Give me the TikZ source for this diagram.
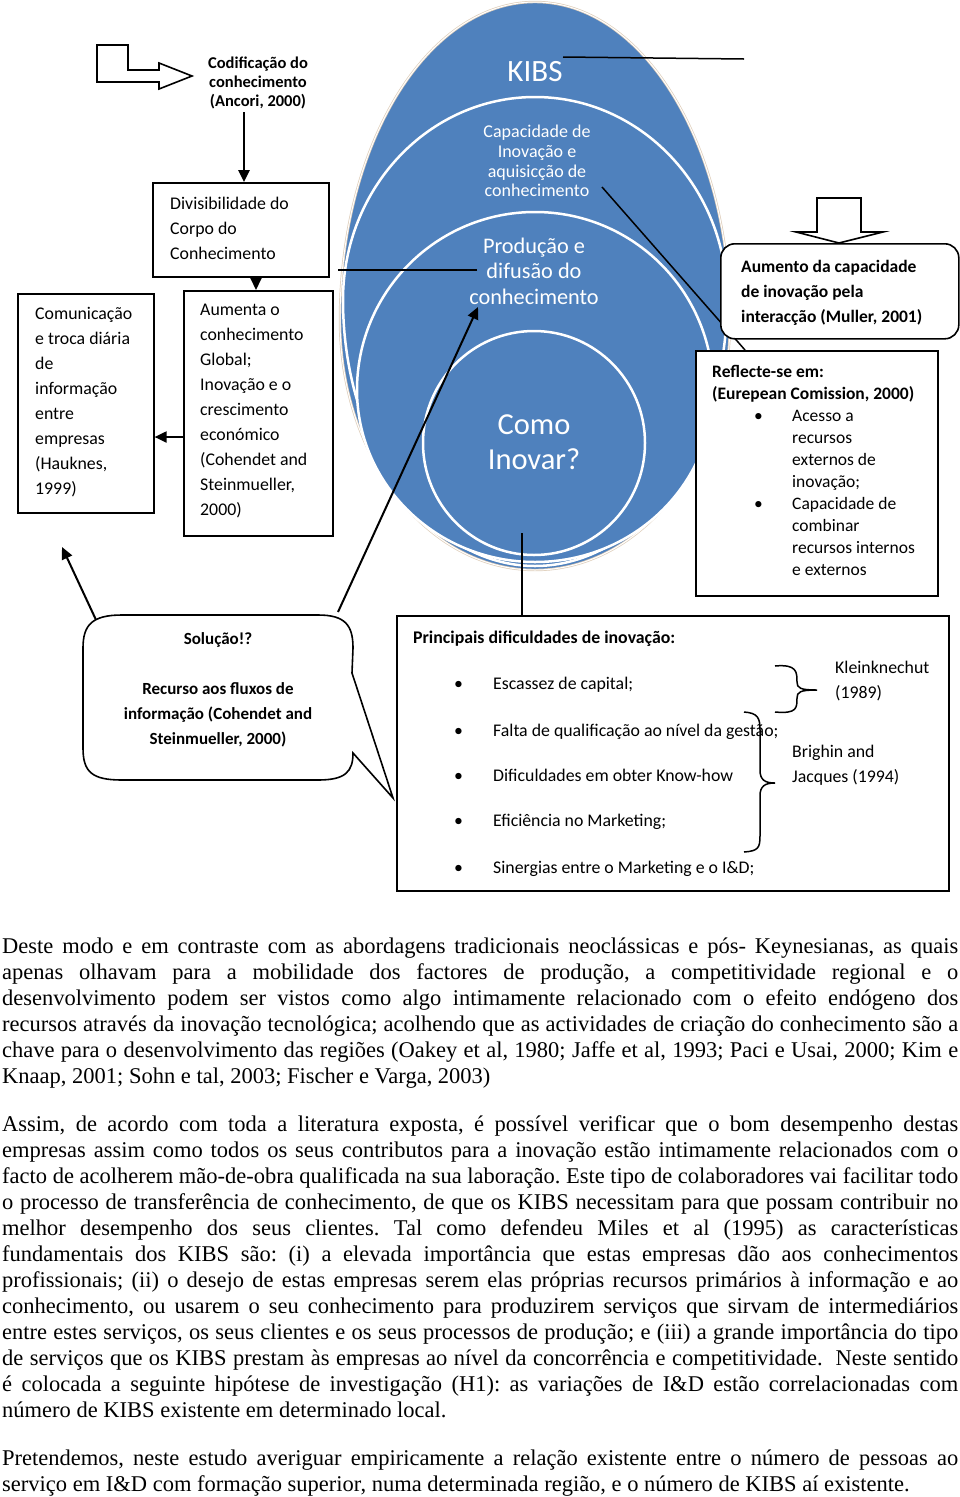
\documentclass[tikz,border=0pt]{standalone}
\usepackage{fontspec}
\setmainfont{Liberation Serif}
\newfontfamily\carl{Carlito}
\usetikzlibrary{arrows.meta}
\definecolor{kblue}{RGB}{79,129,189}
\definecolor{beigeedge}{RGB}{222,205,185}
\newcommand\justline[1]{\makebox[956pt][s]{#1}}
\frenchspacing
\begin{document}
\begin{tikzpicture}[x=1pt,y=-1pt,
 box/.style={draw=black,line width=1.6pt,fill=white,anchor=north west,inner sep=0pt},
 btxt/.style={font=\carl\fontsize{17.8}{25}\selectfont,align=left,inner sep=0pt,anchor=west},
 ln/.style={draw=black,line width=1.5pt},
 arr/.style={draw=black,line width=2pt,-{Triangle[length=12pt,width=11pt]}},
 blk/.style={draw=black,line width=1.6pt,fill=white,line join=miter},
 wtxt/.style={text=white,align=center,inner sep=0pt},
 para/.style={font=\fontsize{22.5}{25.6}\selectfont,anchor=base west,inner sep=0pt},
 lbl/.style={font=\carl\fontsize{17.8}{25}\selectfont,anchor=base west,inner sep=0pt},
]
\useasboundingbox (0,0) rectangle (960,1497);

% ---------- stacked ellipses ----------
\filldraw[fill=kblue,draw=beigeedge,line width=2.4pt] (730,320) arc[start angle=0,end angle=180,x radius=195pt,y radius=318pt] arc[start angle=180,end angle=360,x radius=195pt,y radius=250pt] -- cycle;
\draw[white,line width=1pt] (730,320) arc[start angle=0,end angle=180,x radius=195pt,y radius=318pt] arc[start angle=180,end angle=360,x radius=195pt,y radius=250pt] -- cycle;
\filldraw[fill=kblue,draw=white,line width=2.5pt] (727,300) arc[start angle=0,end angle=180,x radius=192pt,y radius=203pt] arc[start angle=180,end angle=360,x radius=192pt,y radius=266pt] -- cycle;
\filldraw[fill=kblue,draw=white,line width=2.5pt] (713,390) arc[start angle=0,end angle=180,x radius=178pt,y radius=178pt] arc[start angle=180,end angle=360,x radius=178pt,y radius=172pt] -- cycle;
\filldraw[fill=kblue,draw=white,line width=2.5pt] (534,443) ellipse[x radius=111pt,y radius=112pt];

\node[wtxt,font=\carl\fontsize{31}{35}\selectfont] (kibs) at (535,72) {KIBS};
\node[wtxt,font=\carl\fontsize{18}{19.7}\selectfont] (capac) at (537,161) {Capacidade de\\Inovação e\\aquisicção de\\conhecimento};
\node[wtxt,font=\carl\fontsize{22.3}{25.5}\selectfont] (prod) at (534,271) {Produção e\\difusão do\\conhecimento};
\node[wtxt,font=\carl\fontsize{30.5}{35}\selectfont] (como) at (534,442) {Como\\Inovar?};

% ---------- top-left block arrow ----------
\draw[blk] (97,45) -- (128,45) -- (128,70) -- (159,70) -- (159,63) -- (192,76) -- (159,89) -- (159,82) -- (97,82) -- cycle;
\node[font=\carl\bfseries\fontsize{16.5}{19}\selectfont,align=center,inner sep=0pt] (codif) at (258,83) {Codificação do\\conhecimento\\(Ancori, 2000)};

% ---------- left boxes ----------
\node[box,minimum width=176pt,minimum height=94pt] (divbox) at (152,182) {};
\node[btxt] (divtxt) at (170,228) {Divisibilidade do\\Corpo do\\Conhecimento};
\node[box,minimum width=149pt,minimum height=245pt] (aumbox) at (183,290) {};
\node[btxt] (aumtxt) at (200,411) {Aumenta o\\conhecimento\\Global;\\Inovação e o\\crescimento\\económico\\(Cohendet and\\Steinmueller,\\2000)};
\node[box,minimum width=136pt,minimum height=219pt] (combox) at (17,293) {};
\node[btxt] (comtxt) at (35,402) {Comunicação\\e troca diária\\de\\informação\\entre\\empresas\\(Hauknes,\\1999)};

\coordinate (codarr) at (244,112);
\draw[arr,line width=2.6pt] (codarr) -- (codarr |- divbox.north);
\coordinate (d2a) at (256,276);
\draw[arr] (d2a) -- (d2a |- aumbox.north);
\coordinate (a2c) at (183,437);
\draw[arr] (a2c) -- (a2c -| combox.east);

% ---------- right side ----------
\coordinate (capA) at (602,187);
\coordinate (capB) at (745,350);
\draw[ln] (capA) -- (capB);
\coordinate (kibsA) at (563,57);
\coordinate (kibsB) at (744,59);
\draw[ln] (kibsA) -- (kibsB);

\draw[blk] (817,198) -- (861,198) -- (861,232) -- (883,232) -- (839,243) -- (796,232) -- (817,232) -- cycle;
\node[box,rounded corners=14pt,minimum width=238pt,minimum height=95pt] (aumento) at (720,243) {};
\node[btxt,font=\carl\bfseries\fontsize{17.5}{25}\selectfont] (aumentotxt) at (741,293) {Aumento da capacidade\\de inovação pela\\interacção (Muller, 2001)};

\node[box,minimum width=242pt,minimum height=245pt] (refbox) at (695,350) {};
\node[btxt,font=\carl\fontsize{17.5}{22}\selectfont] (reftxt) at (712,470) {\textbf{Reflecte-se em:}\\\textbf{(Eurepean Comission, 2000)}\\\hspace*{42pt}\makebox[38pt][l]{\textbullet}Acesso a\\\hspace*{80pt}recursos\\\hspace*{80pt}externos de\\\hspace*{80pt}inovação;\\\hspace*{42pt}\makebox[38pt][l]{\textbullet}Capacidade de\\\hspace*{80pt}combinar\\\hspace*{80pt}recursos internos\\\hspace*{80pt}e externos};

% ---------- connectors over ellipses ----------
\coordinate (prodA) at (477,270);
\coordinate (prodB) at (338,270);
\draw[ln] (prodA) -- (prodB);
\coordinate (comoA) at (522,533);
\coordinate (solTR) at (338,612);
\coordinate (conhTip) at (478,307);
\draw[arr] (solTR) -- (conhTip);
\coordinate (solTL) at (97,622);
\coordinate (comTip) at (62,547);
\draw[arr] (solTL) -- (comTip);

% ---------- Solução callout ----------
\draw[line width=1.6pt,fill=white,line join=miter] (122,615) -- (318,615) .. controls (345,615) and (353,625) .. (353,648) -- (352,673) -- (393,798) -- (353,753) .. controls (353,772) and (345,780) .. (318,780) -- (122,780) .. controls (92,780) and (83,772) .. (83,748) -- (83,648) .. controls (83,625) and (92,615) .. (122,615) -- cycle;
\node[font=\carl\bfseries\fontsize{17}{25}\selectfont,align=center,inner sep=0pt] (sol) at (218,690) {Solução!?\\[25pt]Recurso aos fluxos de\\informação (Cohendet and\\Steinmueller, 2000)};

% ---------- Principais box ----------
\node[box,minimum width=552pt,minimum height=275pt] (pdbox) at (396,615) {};
\draw[ln] (comoA) -- (comoA |- pdbox.north);
\node[lbl,font=\carl\bfseries\fontsize{17.8}{25}\selectfont] (pdtitle) at (413,643) {Principais dificuldades de inovação:};
\node[lbl] (b1) at (454,689) {\textbullet};
\node[lbl] (t1) at (493,689) {Escassez de capital;};
\node[lbl] (b2) at (454,736) {\textbullet};
\node[lbl] (t2) at (493,736) {Falta de qualificação ao nível da gestão;};
\node[lbl] (b3) at (454,781) {\textbullet};
\node[lbl] (t3) at (493,781) {Dificuldades em obter Know-how};
\node[lbl] (b4) at (454,826) {\textbullet};
\node[lbl] (t4) at (493,826) {Eficiência no Marketing;};
\node[lbl] (b5) at (454,873) {\textbullet};
\node[lbl] (t5) at (493,873) {Sinergias entre o Marketing e o I\&D;};

\draw[line width=1.5pt] (775,666) .. controls (797,664) and (797,672) .. (797,682) .. controls (797,688) and (800,690) .. (817,690) .. controls (800,690) and (797,692) .. (797,698) .. controls (797,708) and (797,714) .. (775,712);
\node[btxt] (klein) at (835,681) {Kleinknechut\\(1989)};
\draw[line width=1.5pt] (744,712) .. controls (758,713) and (760,718) .. (760,730) -- (760,770) .. controls (760,780) and (765,783) .. (775,783) .. controls (765,783) and (760,786) .. (760,796) -- (760,836) .. controls (760,848) and (758,851) .. (744,852);
\node[btxt] (brig) at (792,765) {Brighin and\\Jacques (1994)};

% ---------- body text ----------
\node[para] (p1a) at (2,953) {\justline{Deste modo e em contraste com as abordagens tradicionais neoclássicas e pós- Keynesianas, as quais}};
\node[para] (p1b) at (2,979) {\justline{apenas olhavam para a mobilidade dos factores de produção, a competitividade regional e o}};
\node[para] (p1c) at (2,1005) {\justline{desenvolvimento podem ser vistos como algo intimamente relacionado com o efeito endógeno dos}};
\node[para] (p1d) at (2,1031) {\justline{recursos através da inovação tecnológica; acolhendo que as actividades de criação do conhecimento são a}};
\node[para] (p1e) at (2,1057) {\justline{chave para o desenvolvimento das regiões (Oakey et al, 1980; Jaffe et al, 1993; Paci e Usai, 2000; Kim e}};
\node[para] (p1f) at (2,1083) {Knaap, 2001; Sohn e tal, 2003; Fischer e Varga, 2003)};

\node[para] (p2a) at (2,1131) {\justline{Assim, de acordo com toda a literatura exposta, é possível verificar que o bom desempenho destas}};
\node[para] (p2b) at (2,1157) {\justline{empresas assim como todos os seus contributos para a inovação estão intimamente relacionados com o}};
\node[para] (p2c) at (2,1183) {\justline{facto de acolherem mão-de-obra qualificada na sua laboração. Este tipo de colaboradores vai facilitar todo}};
\node[para] (p2d) at (2,1209) {\justline{o processo de transferência de conhecimento, de que os KIBS necessitam para que possam contribuir no}};
\node[para] (p2e) at (2,1235) {\justline{melhor desempenho dos seus clientes. Tal como defendeu Miles et al (1995) as características}};
\node[para] (p2f) at (2,1261) {\justline{fundamentais dos KIBS são: (i) a elevada importância que estas empresas dão aos conhecimentos}};
\node[para] (p2g) at (2,1287) {\justline{profissionais; (ii) o desejo de estas empresas serem elas próprias recursos primários à informação e ao}};
\node[para] (p2h) at (2,1313) {\justline{conhecimento, ou usarem o seu conhecimento para produzirem serviços que sirvam de intermediários}};
\node[para] (p2i) at (2,1339) {\justline{entre estes serviços, os seus clientes e os seus processos de produção; e (iii) a grande importância do tipo}};
\node[para] (p2j) at (2,1365) {\justline{de serviços que os KIBS prestam às empresas ao nível da concorrência e competitividade.\ \ Neste sentido}};
\node[para] (p2k) at (2,1391) {\justline{é colocada a seguinte hipótese de investigação (H1): as variações de I\&D estão correlacionadas com}};
\node[para] (p2l) at (2,1417) {número de KIBS existente em determinado local.};

\node[para] (p3a) at (2,1465) {\justline{Pretendemos, neste estudo averiguar empiricamente a relação existente entre o número de pessoas ao}};
\node[para] (p3b) at (2,1491) {serviço em I\&D com formação superior, numa determinada região, e o número de KIBS aí existente.};
\end{tikzpicture}
\end{document}
